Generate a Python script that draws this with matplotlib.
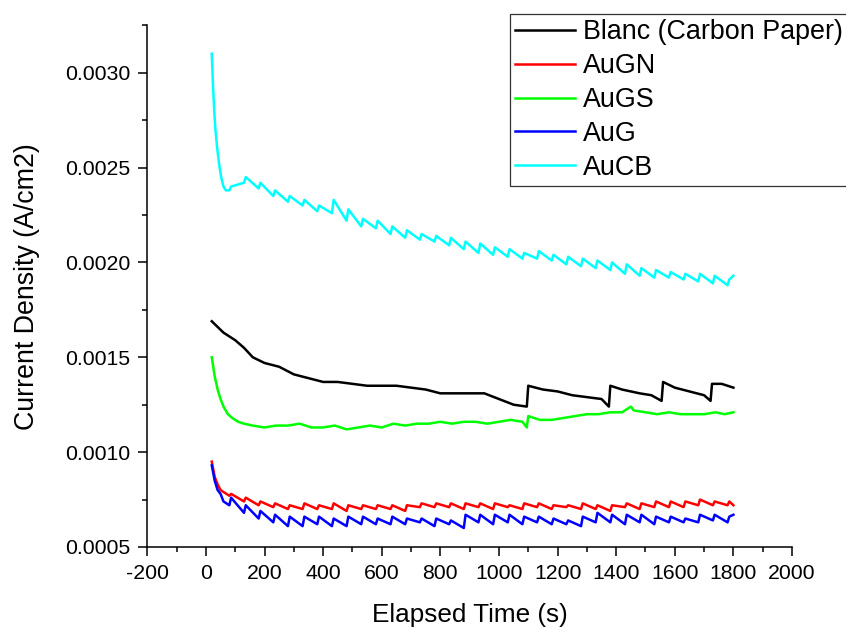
import matplotlib
matplotlib.use("Agg")
import matplotlib.pyplot as plt
from matplotlib.ticker import MultipleLocator, FormatStrFormatter

plt.rcParams['font.family'] = ['Liberation Sans', 'DejaVu Sans']
plt.rcParams['axes.unicode_minus'] = False

# vremena zubaca (minimum, pa maksimum)
t_teeth = [80, 86, 130, 136, 180, 186, 230, 236, 280, 286,
           330, 336, 380, 386, 430, 436, 480, 486, 530, 536,
           580, 586, 630, 636, 680, 686, 730, 736, 780, 786,
           830, 836, 880, 886, 930, 936, 980, 986, 1030, 1036,
           1080, 1086, 1130, 1136, 1180, 1186, 1230, 1236, 1280, 1286,
           1330, 1336, 1380, 1386, 1430, 1436, 1480, 1486, 1530, 1536,
           1580, 1586, 1630, 1636, 1680, 1686, 1730, 1736, 1780, 1786,
           1800]

# Blanc (Carbon Paper)
t_blanc = [20, 40, 60, 80, 100, 130, 160, 200, 250, 300,
           350, 400, 450, 500, 550, 600, 650, 700, 750, 800,
           850, 900, 950, 1000, 1050, 1095, 1100, 1150, 1200, 1250,
           1300, 1350, 1375, 1380, 1420, 1480, 1520, 1555, 1560, 1600,
           1650, 1700, 1722, 1727, 1760, 1800]
j_blanc = [0.00169, 0.00166, 0.00163, 0.00161, 0.00159, 0.00155, 0.00150, 0.00147, 0.00145, 0.00141,
           0.00139, 0.00137, 0.00137, 0.00136, 0.00135, 0.00135, 0.00135, 0.00134, 0.00133, 0.00131,
           0.00131, 0.00131, 0.00131, 0.00128, 0.00125, 0.00124, 0.00135, 0.00133, 0.00132, 0.00130,
           0.00129, 0.00128, 0.00124, 0.00135, 0.00133, 0.00131, 0.00130, 0.00127, 0.00137, 0.00134,
           0.00132, 0.00130, 0.00127, 0.00136, 0.00136, 0.00134]

# AuGN
t_augn_head = [20, 30, 40, 50, 60, 70]
j_augn_head = [0.00095, 0.00087, 0.00083, 0.00080, 0.00079, 0.00078]
j_augn = [0.00077, 0.00078, 0.00074, 0.00076, 0.00072, 0.00074, 0.00071, 0.00073, 0.00070, 0.00072,
          0.00070, 0.00073, 0.00070, 0.00072, 0.00070, 0.00073, 0.00069, 0.00072, 0.00070, 0.00072,
          0.00070, 0.00072, 0.00070, 0.00072, 0.00069, 0.00072, 0.00071, 0.00073, 0.00071, 0.00073,
          0.00071, 0.00073, 0.00070, 0.00073, 0.00071, 0.00073, 0.00070, 0.00073, 0.00071, 0.00072,
          0.00070, 0.00073, 0.00071, 0.00073, 0.00070, 0.00072, 0.00071, 0.00072, 0.00070, 0.00073,
          0.00070, 0.00072, 0.00069, 0.00072, 0.00071, 0.00073, 0.00070, 0.00073, 0.00071, 0.00074,
          0.00071, 0.00074, 0.00071, 0.00074, 0.00072, 0.00075, 0.00072, 0.00074, 0.00072, 0.00074,
          0.00072]

# AuGS
t_augs = [20, 30, 40, 50, 60, 75, 90, 110, 130, 160,
          200, 240, 280, 320, 360, 400, 440, 480, 520, 560,
          600, 640, 680, 720, 760, 800, 840, 880, 920, 960,
          1000, 1040, 1080, 1095, 1100, 1140, 1180, 1220, 1260, 1300,
          1340, 1380, 1420, 1450, 1460, 1500, 1540, 1580, 1620, 1660,
          1700, 1740, 1770, 1800]
j_augs = [0.00150, 0.00140, 0.00133, 0.00128, 0.00124, 0.00120, 0.00118, 0.00116, 0.00115, 0.00114,
          0.00113, 0.00114, 0.00114, 0.00115, 0.00113, 0.00113, 0.00114, 0.00112, 0.00113, 0.00114,
          0.00113, 0.00115, 0.00114, 0.00115, 0.00115, 0.00116, 0.00115, 0.00116, 0.00116, 0.00115,
          0.00116, 0.00117, 0.00116, 0.00113, 0.00119, 0.00117, 0.00117, 0.00118, 0.00119, 0.00120,
          0.00120, 0.00121, 0.00121, 0.00124, 0.00122, 0.00121, 0.00120, 0.00121, 0.00120, 0.00120,
          0.00120, 0.00121, 0.00120, 0.00121]

# AuG
t_aug_head = [20, 30, 40, 50, 60, 70]
j_aug_head = [0.00093, 0.00085, 0.00080, 0.00078, 0.00074, 0.00073]
j_aug = [0.00072, 0.00076, 0.00068, 0.00072, 0.00065, 0.00069, 0.00063, 0.00067, 0.00061, 0.00066,
         0.00061, 0.00066, 0.00062, 0.00066, 0.00061, 0.00065, 0.00061, 0.00066, 0.00062, 0.00066,
         0.00062, 0.00065, 0.00062, 0.00066, 0.00062, 0.00065, 0.00063, 0.00065, 0.00061, 0.00065,
         0.00062, 0.00064, 0.00060, 0.00067, 0.00063, 0.00067, 0.00062, 0.00067, 0.00063, 0.00067,
         0.00062, 0.00066, 0.00063, 0.00066, 0.00062, 0.00065, 0.00062, 0.00064, 0.00061, 0.00066,
         0.00063, 0.00068, 0.00063, 0.00067, 0.00062, 0.00067, 0.00063, 0.00067, 0.00062, 0.00066,
         0.00063, 0.00066, 0.00063, 0.00065, 0.00063, 0.00067, 0.00064, 0.00067, 0.00063, 0.00066,
         0.00067]

# AuCB
t_aucb_head = [20, 24, 28, 32, 38, 45, 52, 60, 68]
j_aucb_head = [0.00310, 0.00294, 0.00281, 0.00271, 0.00261, 0.00252, 0.00245, 0.00240, 0.00238]
j_aucb = [0.00238, 0.00240, 0.00242, 0.00245, 0.00239, 0.00242, 0.00235, 0.00238, 0.00232, 0.00235,
          0.00230, 0.00233, 0.00227, 0.00230, 0.00226, 0.00233, 0.00222, 0.00228, 0.00219, 0.00223,
          0.00218, 0.00222, 0.00215, 0.00219, 0.00213, 0.00217, 0.00212, 0.00215, 0.00211, 0.00214,
          0.00209, 0.00213, 0.00207, 0.00211, 0.00205, 0.00210, 0.00204, 0.00208, 0.00203, 0.00207,
          0.00202, 0.00205, 0.00202, 0.00206, 0.00201, 0.00204, 0.00199, 0.00203, 0.00198, 0.00202,
          0.00197, 0.00201, 0.00196, 0.00200, 0.00194, 0.00199, 0.00193, 0.00197, 0.00192, 0.00196,
          0.00192, 0.00195, 0.00191, 0.00194, 0.00190, 0.00194, 0.00189, 0.00193, 0.00188, 0.00191,
          0.00193]

fig = plt.figure(figsize=(8.46, 6.28), dpi=100)
ax = fig.add_axes([0.1741, 0.1290, 0.7621, 0.8307])

lw = 1.8
ax.plot(t_blanc, j_blanc, c="black", lw=lw, label="Blanc (Carbon Paper)")
ax.plot(t_augn_head + t_teeth, j_augn_head + j_augn, c="#ff0000", lw=lw, label="AuGN")
ax.plot(t_augs, j_augs, c="#00ff00", lw=lw, label="AuGS")
ax.plot(t_aug_head + t_teeth, j_aug_head + j_aug, c="#0000ff", lw=lw, label="AuG")
ax.plot(t_aucb_head + t_teeth, j_aucb_head + j_aucb, c="#00ffff", lw=lw, label="AuCB")

ax.set_xlim(-200, 2000)
ax.set_ylim(0.0005, 0.00325)
ax.xaxis.set_major_locator(MultipleLocator(200))
ax.xaxis.set_minor_locator(MultipleLocator(100))
ax.yaxis.set_major_locator(MultipleLocator(0.0005))
ax.yaxis.set_minor_locator(MultipleLocator(0.00025))
ax.yaxis.set_major_formatter(FormatStrFormatter('%.4f'))

ax.spines['top'].set_visible(False)
ax.spines['right'].set_visible(False)
for s in ['left', 'bottom']:
    ax.spines[s].set_linewidth(1.1)
ax.tick_params(which='major', direction='out', length=6.5, width=1.1, labelsize=15.3, pad=6)
ax.tick_params(which='minor', direction='out', length=3.5, width=1.1)

ax.set_xlabel("Elapsed Time (s)", fontsize=18.8, labelpad=14)
ax.set_ylabel("Current Density (A/cm2)", fontsize=19.3, labelpad=18)

leg = ax.legend(loc='upper left', bbox_to_anchor=(510 / 846, 1 - 14 / 628),
                bbox_transform=fig.transFigure, fontsize=19.4, fancybox=False,
                framealpha=1, edgecolor='#333333', borderpad=0.2, labelspacing=0.29,
                handlelength=2.2, handletextpad=0.32, borderaxespad=0)
leg.get_frame().set_linewidth(0.9)

fig.savefig("out.png", dpi=100)
